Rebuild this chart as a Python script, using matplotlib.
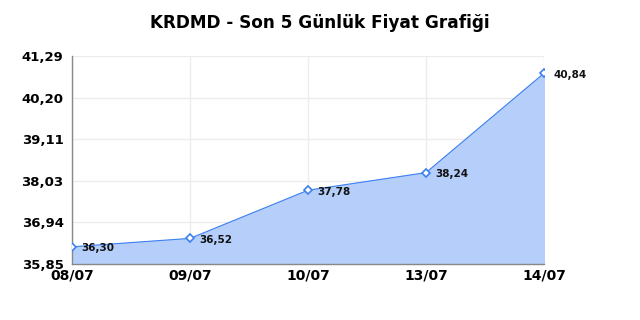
import matplotlib.pyplot as plt
import numpy as np

# Veriler
dates = ['08/07', '09/07', '10/07', '13/07', '14/07']
prices = [36.30, 36.52, 37.78, 38.24, 40.84]
y_ticks = [35.85, 36.94, 38.03, 39.11, 40.20, 41.29]

line_color = '#3d7ff0'
fill_color = '#b5cffa'

fig = plt.figure(figsize=(6.4, 3.2), dpi=100)
ax = fig.add_axes([0.1125, 0.175, 0.7375, 0.65])

x = np.arange(len(dates))
ax.fill_between(x, prices, y_ticks[0], color=fill_color, zorder=1)
ax.plot(x, prices, color=line_color, linewidth=0.8, zorder=2)
ax.plot(x, prices, linestyle='none', marker='D', markersize=4,
        markerfacecolor='white', markeredgecolor=line_color, markeredgewidth=1.2, zorder=3)

for xi, p in zip(x, prices):
    ax.annotate(f'{p:.2f}'.replace('.', ','), (xi, p), xytext=(7, -1),
                textcoords='offset points', ha='left', va='center',
                fontsize=7.5, fontweight='bold', color='#111111', zorder=4)

ax.set_xlim(0, len(dates) - 1)
ax.set_ylim(y_ticks[0], y_ticks[-1])
ax.set_xticks(x)
ax.set_xticklabels(dates, fontsize=10, fontweight='bold')
ax.set_yticks(y_ticks)
ax.set_yticklabels([f'{t:.2f}'.replace('.', ',') for t in y_ticks], fontsize=9.5, fontweight='bold')
ax.tick_params(axis='x', length=0, pad=3)
ax.tick_params(axis='y', length=0, pad=6)

ax.grid(True, color='#ececec', linewidth=1, zorder=0)
ax.set_axisbelow(True)
for s in ['top', 'right']:
    ax.spines[s].set_visible(False)
for s in ['left', 'bottom']:
    ax.spines[s].set_color('#888888')
    ax.spines[s].set_linewidth(1)

fig.suptitle('KRDMD - Son 5 Günlük Fiyat Grafiği', x=0.5, y=0.955,
             fontsize=12.2, fontweight='bold', color='#000000')

fig.savefig('out.png', dpi=100)
